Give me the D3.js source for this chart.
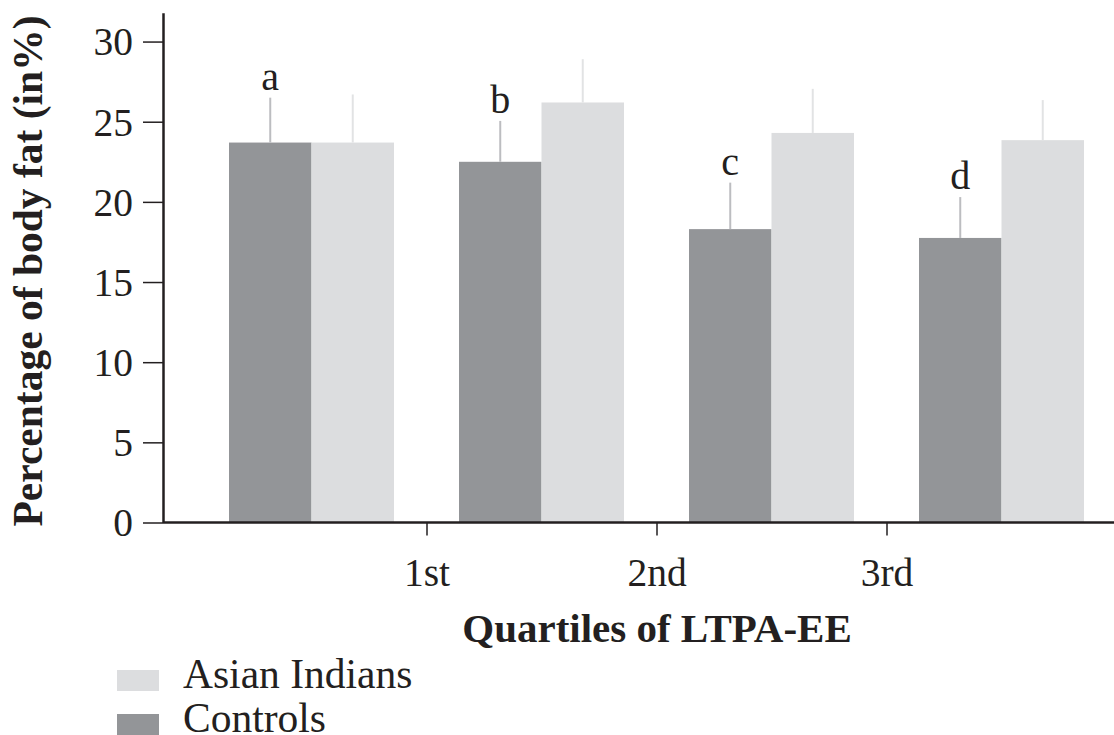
<!DOCTYPE html>
<html>
<head>
<meta charset="utf-8">
<script src="https://cdn.jsdelivr.net/npm/d3@7"></script>
<style>
  html, body { margin: 0; padding: 0; background: #fff; }
  svg { display: block; font-family: "Liberation Serif", "Times New Roman", serif; }
</style>
</head>
<body>
<svg id="chart" width="1114" height="735"></svg>
<script>
// Body fat by quartile of leisure-time physical activity energy expenditure
const groups = ["Q1", "Q2", "Q3", "Q4"];
const seriesNames = ["Controls", "Asian Indians"];
const controlsMean = [23.7, 22.5, 18.3, 17.75];
const controlsSD = [2.8, 2.55, 2.9, 2.55];
const asianMean = [23.7, 26.2, 24.3, 23.85];
const asianSD = [3.0, 2.7, 2.75, 2.5];
const sigLetters = ["a", "b", "c", "d"];
const yTicks = [0, 5, 10, 15, 20, 25, 30];
const xTickLabels = ["1st", "2nd", "3rd"];

const colors = { "Controls": "#939598", "Asian Indians": "#dcdddf" };
const errColors = { "Controls": "#bcbdc0", "Asian Indians": "#e2e3e4" };
const ink = "#231f20";

const rows = groups.map((g, i) => ({
  group: g,
  letter: sigLetters[i],
  values: [
    { key: "Controls", mean: controlsMean[i], sd: controlsSD[i] },
    { key: "Asian Indians", mean: asianMean[i], sd: asianSD[i] }
  ]
}));

const svg = d3.select("#chart");

const y = d3.scaleLinear().domain([0, 31.8]).range([522.5, 12.7]);

const x0 = d3.scaleBand()
  .domain(groups)
  .range([229, 1084])
  .paddingInner(65 / 230)
  .paddingOuter(0);

const x1 = d3.scaleBand()
  .domain(seriesNames)
  .range([0, x0.bandwidth()]);

// Bars
const g = svg.append("g");
const grp = g.selectAll("g.grp").data(rows).join("g")
  .attr("class", "grp")
  .attr("transform", d => `translate(${x0(d.group)},0)`);

grp.selectAll("rect").data(d => d.values).join("rect")
  .attr("x", d => x1(d.key))
  .attr("y", d => y(d.mean))
  .attr("width", x1.bandwidth())
  .attr("height", d => y(0) - y(d.mean))
  .attr("fill", d => colors[d.key]);

// Upper error whiskers
grp.selectAll("line.err").data(d => d.values).join("line")
  .attr("class", "err")
  .attr("x1", d => x1(d.key) + x1.bandwidth() / 2)
  .attr("x2", d => x1(d.key) + x1.bandwidth() / 2)
  .attr("y1", d => y(d.mean))
  .attr("y2", d => y(d.mean + d.sd))
  .attr("stroke", d => errColors[d.key])
  .attr("stroke-width", 2);

// Significance letters above the control bars
grp.append("text")
  .attr("x", x1("Controls") + x1.bandwidth() / 2)
  .attr("y", d => y(d.values[0].mean + d.values[0].sd) - 8)
  .attr("text-anchor", "middle")
  .attr("font-size", 40)
  .attr("fill", ink)
  .text(d => d.letter);

// Y axis
const yAxis = svg.append("g")
  .attr("transform", "translate(163,0)")
  .call(d3.axisLeft(y).tickValues(yTicks).tickSize(20).tickSizeOuter(0).tickPadding(10));
yAxis.select(".domain").attr("stroke", ink).attr("stroke-width", 2.5);
yAxis.selectAll(".tick line").attr("stroke", ink).attr("stroke-width", 1.5);
yAxis.selectAll(".tick text")
  .attr("font-family", "Liberation Serif, serif")
  .attr("font-size", 39.5)
  .attr("fill", ink)
  .attr("dy", "0.34em");

// X axis: ticks sit in the gaps between groups
const gapCenters = groups.slice(0, -1).map((gname, i) =>
  (x0(gname) + x0.bandwidth() + x0(groups[i + 1])) / 2);
const xt = d3.scalePoint().domain(xTickLabels).range([gapCenters[0], gapCenters[gapCenters.length - 1]]);

svg.append("line")
  .attr("x1", 163).attr("x2", 1114)
  .attr("y1", y(0)).attr("y2", y(0))
  .attr("stroke", ink).attr("stroke-width", 2.5);

const xAxis = svg.append("g")
  .attr("transform", `translate(0,${y(0)})`)
  .call(d3.axisBottom(xt).tickSize(13).tickSizeOuter(0).tickPadding(22));
xAxis.select(".domain").remove();
xAxis.selectAll(".tick line").attr("stroke", ink).attr("stroke-width", 1.5);
xAxis.selectAll(".tick text")
  .attr("font-family", "Liberation Serif, serif")
  .attr("font-size", 39.5)
  .attr("fill", ink);

// Axis titles
svg.append("text")
  .attr("x", 657).attr("y", 642)
  .attr("text-anchor", "middle")
  .attr("font-size", 41)
  .attr("font-weight", "bold")
  .attr("fill", ink)
  .text("Quartiles of LTPA-EE");

svg.append("text")
  .attr("transform", "translate(42,271) rotate(-90)")
  .attr("text-anchor", "middle")
  .attr("font-size", 41.5)
  .attr("font-weight", "bold")
  .attr("fill", ink)
  .text("Percentage of body fat (in%)");

// Legend
const legendItems = ["Asian Indians", "Controls"];
const lg = svg.append("g").selectAll("g").data(legendItems).join("g")
  .attr("transform", (d, i) => `translate(117,${670 + i * 44})`);
lg.append("rect")
  .attr("width", 42).attr("height", 21)
  .attr("fill", d => colors[d]);
lg.append("text")
  .attr("x", 66).attr("y", 18)
  .attr("font-size", 41.5)
  .attr("fill", ink)
  .text(d => d);
</script>
</body>
</html>
